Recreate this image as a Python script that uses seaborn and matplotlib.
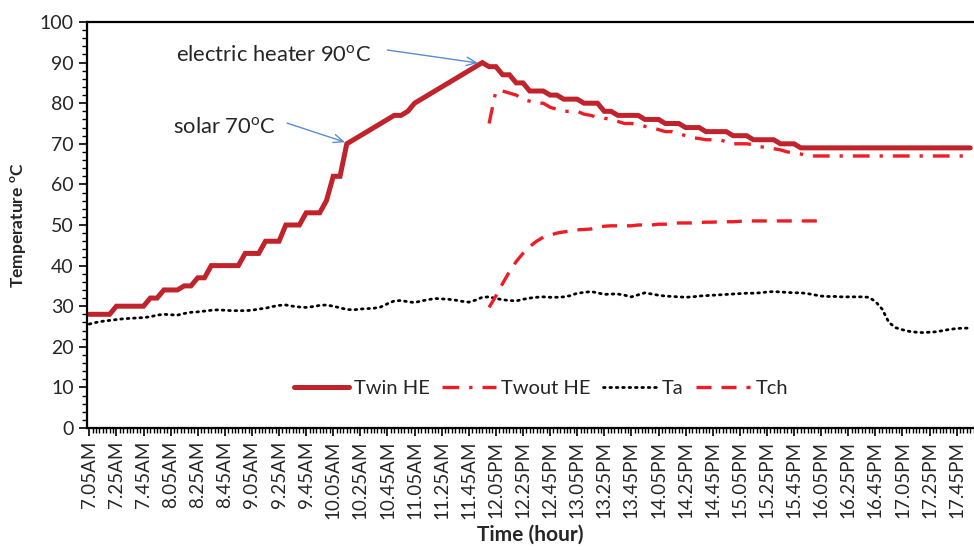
import numpy as np
import pandas as pd
import matplotlib
matplotlib.use("Agg")
import matplotlib.pyplot as plt
from matplotlib.ticker import MultipleLocator, FixedLocator
import seaborn as sns

# ---- data: minutes after 7:05, sampled every 5 minutes ----
minutes_all = np.arange(0, 655, 5)          # 7:05 ... 17:55
minutes_pm = np.arange(295, 655, 5)         # 12:00 ... 17:55
minutes_ch = np.arange(295, 545, 5)         # 12:00 ... 16:05

twin_he = [28, 28, 28, 28, 30, 30, 30, 30, 30, 32, 32, 34, 34, 34, 35, 35, 37, 37, 40, 40,
           40, 40, 40, 43, 43, 43, 46, 46, 46, 50, 50, 50, 53, 53, 53, 56, 62, 62, 70, 71,
           72, 73, 74, 75, 76, 77, 77, 78, 80, 81, 82, 83, 84, 85, 86, 87, 88, 89, 90, 89,
           89, 87, 87, 85, 85, 83, 83, 83, 82, 82, 81, 81, 81, 80, 80, 80, 78, 78, 77, 77,
           77, 77, 76, 76, 76, 75, 75, 75, 74, 74, 74, 73, 73, 73, 73, 72, 72, 72, 71, 71,
           71, 71, 70, 70, 70, 69, 69, 69, 69, 69, 69, 69, 69, 69, 69, 69, 69, 69, 69, 69,
           69, 69, 69, 69, 69, 69, 69, 69, 69, 69, 69]

twout_he = [75, 83, 83, 82.5, 82, 81, 80.5, 80, 80, 79, 78.5, 78, 78, 78, 77.3, 77, 76.5, 76.3,
            76, 75.5, 75, 75, 74.8, 74.3, 74, 73.5, 73, 73, 72.5, 72, 71.5, 71.3, 71, 71, 71,
            70.5, 70, 70, 70, 69.8, 69.3, 69, 68.8, 68.5, 68, 67.8, 67.5, 67, 67, 67, 67, 67,
            67, 67, 67, 67, 67, 67, 67, 67, 67, 67, 67, 67, 67, 67, 67, 67, 67, 67, 67, 67]

ta = [25.6, 26, 26.3, 26.5, 26.7, 26.9, 27, 27.1, 27.2, 27.4, 27.8, 28, 27.9, 27.8, 28.2,
      28.5, 28.6, 28.8, 29, 29.1, 29, 28.9, 28.9, 28.9, 29, 29.3, 29.5, 29.9, 30.2, 30.3,
      30, 29.8, 29.7, 29.9, 30.2, 30.3, 30, 29.6, 29.2, 29.1, 29.3, 29.4, 29.5, 29.8, 30.6,
      31.3, 31.4, 31.1, 30.9, 31.3, 31.6, 31.9, 31.8, 31.7, 31.5, 31.2, 31, 31.5, 32.2, 32.3,
      31.9, 31.6, 31.4, 31.3, 31.7, 32, 32.2, 32.3, 32.2, 32.2, 32.3, 32.6, 33.2, 33.4, 33.6,
      33.3, 32.9, 33, 33, 32.7, 32.3, 32.8, 33.3, 33, 32.7, 32.5, 32.4, 32.3, 32.2, 32.3,
      32.5, 32.6, 32.7, 32.8, 32.9, 33, 33.1, 33.2, 33.2, 33.3, 33.5, 33.6, 33.5, 33.4, 33.3,
      33.3, 33.1, 32.8, 32.5, 32.4, 32.4, 32.3, 32.3, 32.3, 32.3, 32.2, 31.2, 29.3, 26, 24.7,
      24.2, 23.8, 23.6, 23.5, 23.6, 23.7, 24, 24.3, 24.5, 24.6, 24.6]

tch = [29.7, 32.5, 35.6, 38.5, 41, 43, 44.7, 46, 47, 47.5, 48, 48.3, 48.5, 48.8, 48.9, 49,
       49.5, 49.7, 49.8, 49.8, 49.8, 49.8, 50, 50, 50, 50.2, 50.2, 50.4, 50.5, 50.5, 50.5,
       50.6, 50.7, 50.7, 50.8, 50.8, 50.8, 50.9, 50.9, 51, 51, 51, 51, 51, 51, 51, 51, 51,
       51, 51]

tick_minutes = list(range(0, 645, 20))
tick_labels = ["7.05AM", "7.25AM", "7.45AM", "8.05AM", "8.25AM", "8.45AM", "9.05AM", "9.25AM",
               "9.45AM", "10.05AM", "10.25AM", "10.45AM", "11.05AM", "11.25AM", "11.45AM",
               "12.05PM", "12.25PM", "12.45PM", "13.05PM", "13.25PM", "13.45PM", "14.05PM",
               "14.25PM", "14.45PM", "15.05PM", "15.25PM", "15.45PM", "16.05PM", "16.25PM",
               "16.45PM", "17.05PM", "17.25PM", "17.45PM"]

# ---- styling ----
sns.set_style("ticks")
plt.rcParams["font.family"] = ["Lato", "DejaVu Sans"]
plt.rcParams["mathtext.fontset"] = "custom"
plt.rcParams["mathtext.rm"] = "Lato"
plt.rcParams["mathtext.bf"] = "Lato:bold"

dark_red = "#C0232B"
bright_red = "#EE1C25"
text_col = "#262626"

fig = plt.figure(figsize=(9.74, 5.5), dpi=100)
ax = fig.add_axes([87 / 974, 122 / 550, 887 / 974, 406 / 550])

sns.lineplot(x=minutes_all, y=twin_he, ax=ax, color=dark_red, lw=3.6,
             label="Twin HE", solid_joinstyle="miter")
sns.lineplot(x=minutes_pm, y=twout_he, ax=ax, color=bright_red, lw=2.4,
             linestyle=(0, (5, 3, 1, 3)), label="Twout HE")
sns.lineplot(x=minutes_all, y=ta, ax=ax, color="black", lw=2.0,
             linestyle=(0, (0.6, 1.7)), dash_capstyle="round", label="Ta")
sns.lineplot(x=minutes_ch, y=tch, ax=ax, color=bright_red, lw=2.4,
             linestyle=(0, (4.5, 3)), label="Tch")

ax.set_xlim(-1.7, 652.8)
ax.set_ylim(0, 100)

ax.yaxis.set_major_locator(MultipleLocator(10))
ax.yaxis.set_minor_locator(MultipleLocator(2))
ax.xaxis.set_major_locator(FixedLocator(tick_minutes))
ax.xaxis.set_minor_locator(MultipleLocator(2.5))
ax.set_xticklabels(tick_labels, rotation=90, fontsize=13.5, color=text_col)
ax.tick_params(axis="y", labelsize=14, colors=text_col)
ax.tick_params(axis="both", which="major", direction="out", length=6, width=1.2, color="black")
ax.tick_params(axis="both", which="minor", direction="out", length=3.5, width=1.0, color="black")
ax.tick_params(axis="x", which="major", pad=3)

for side in ["left", "bottom", "top"]:
    ax.spines[side].set_color("black")
    ax.spines[side].set_linewidth(1.6)
ax.spines["right"].set_visible(False)

ax.set_xlabel("Time (hour)", fontsize=15, fontweight="bold", color=text_col, labelpad=4)
ax.set_ylabel(r"Temperature $^{\mathbf{o}}$C", fontsize=12.5, fontweight="bold",
              color=text_col, labelpad=8)

# annotations with thin blue arrows
arrow_kw = dict(arrowstyle="->,head_length=0.7,head_width=0.3", color="#5B8BD3", lw=1.0,
                shrinkA=0, shrinkB=0)
ax.text(136, 91.9, r"electric heater 90$^{\mathrm{o}}$C", fontsize=15.8, ha="center",
        va="center", color=text_col)
ax.annotate("", xy=(286.8, 89.9), xytext=(219.9, 93.1), arrowprops=arrow_kw)
ax.text(100, 74.1, r"solar 70$^{\mathrm{o}}$C", fontsize=15.8, ha="center", va="center",
        color=text_col)
ax.annotate("", xy=(188.7, 70.4), xytext=(145.9, 75.1), arrowprops=arrow_kw)

leg = ax.legend(loc="center", bbox_to_anchor=(0.512, 0.0985), ncol=4, frameon=False,
                fontsize=14.5, handlelength=2.7, handletextpad=0.25, columnspacing=0.6)
for txt in leg.get_texts():
    txt.set_color(text_col)

fig.savefig("out.png", dpi=100)
